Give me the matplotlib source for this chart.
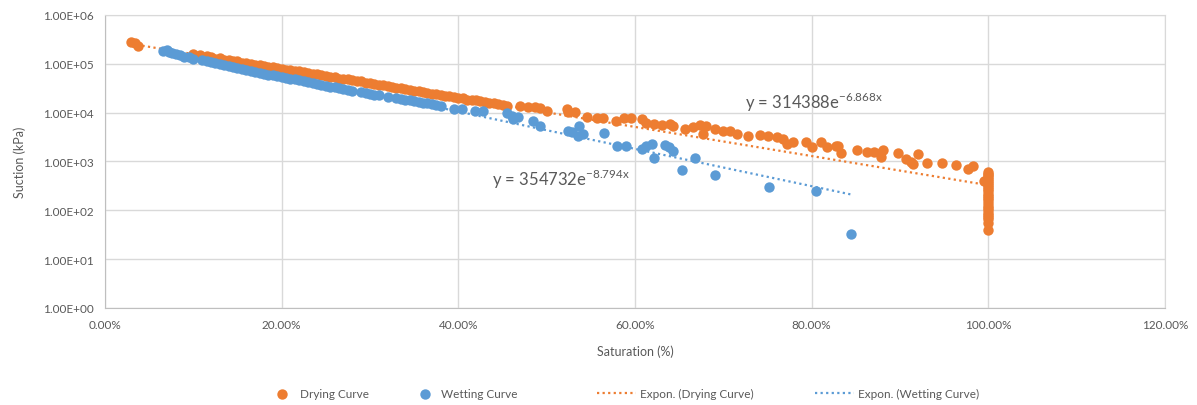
import numpy as np
import matplotlib.pyplot as plt
from matplotlib.ticker import FixedLocator, FuncFormatter, NullLocator

plt.rcParams['font.family'] = ['Lato', 'DejaVu Sans']

# Drying curve (saturation as fraction, suction in kPa)
dry_sat = [0.030, 0.034, 0.037,
           0.100, 0.108, 0.115, 0.120, 0.125, 0.130, 0.135, 0.140, 0.145, 0.150,
           0.155, 0.160, 0.165, 0.170, 0.175, 0.180, 0.185, 0.190, 0.195, 0.200,
           0.205, 0.210, 0.215, 0.220, 0.225, 0.230, 0.235, 0.240, 0.245, 0.250,
           0.255, 0.260, 0.265, 0.270, 0.275, 0.280, 0.285, 0.290, 0.295, 0.300,
           0.305, 0.310, 0.315, 0.320, 0.325, 0.330, 0.335, 0.340, 0.345, 0.350,
           0.355, 0.360, 0.365, 0.370, 0.375, 0.380, 0.385, 0.390, 0.395, 0.400,
           0.405, 0.410, 0.415, 0.420, 0.425, 0.430, 0.435, 0.440, 0.445, 0.450,
           0.455, 0.470, 0.479, 0.487, 0.493, 0.500, 0.523, 0.524, 0.532, 0.546,
           0.557, 0.564, 0.579, 0.587, 0.596, 0.608, 0.613, 0.621, 0.630, 0.640,
           0.643, 0.657, 0.666, 0.674, 0.680, 0.677, 0.691, 0.700, 0.708, 0.715,
           0.728, 0.742, 0.751, 0.761, 0.768, 0.772, 0.779, 0.793, 0.800, 0.810,
           0.817, 0.827, 0.830, 0.833, 0.851, 0.863, 0.870, 0.877, 0.878, 0.881,
           0.898, 0.907, 0.912, 0.915, 0.920, 0.930, 0.948, 0.963, 0.977, 0.983,
           0.995, 1.0, 1.0, 1.0, 1.0, 1.0, 1.0, 1.0, 1.0, 1.0, 1.0, 1.0, 1.0, 1.0,
           1.0, 1.0, 1.0, 1.0, 1.0, 1.0, 1.0, 1.0, 1.0, 1.0, 1.0, 1.0]
dry_suction = [284000, 262000, 235000,
               160000, 150000, 142000, 140000, 128000, 130000, 120000, 118000, 115000, 112000,
               102000, 105000, 98000, 96000, 93000, 92000, 86000, 85000, 84000, 80000,
               76000, 75000, 72000, 70000, 67000, 66000, 63000, 61000, 60000, 56000,
               54000, 55000, 50000, 49000, 48000, 46000, 45000, 44000, 41000, 40000,
               38000, 37000, 36000, 35500, 33000, 32000, 31500, 30500, 29000, 28000,
               27500, 26500, 25000, 24500, 24000, 23000, 22000, 21500, 20500, 20000,
               19500, 18500, 18000, 17800, 17000, 16500, 16000, 15500, 15000, 14500,
               13900, 13900, 12890, 12890, 12300, 10990, 11890, 10180, 10180, 8040,
               7670, 7670, 6850, 7670, 7670, 7430, 6150, 5870, 5600, 5870,
               5410, 4630, 5020, 5600, 5410, 3660, 4630, 4280, 4280, 3660,
               3380, 3490, 3280, 3130, 2890, 2280, 2550, 2550, 1955, 2470,
               1955, 2110, 2110, 1470, 1720, 1545, 1590, 1470, 1220, 1745,
               1470, 1125, 963, 889, 1430, 919, 919, 860, 703, 820,
               390, 610, 560, 520, 480, 440, 400, 360, 330, 300, 270, 245, 220, 200,
               180, 160, 140, 125, 110, 100, 90, 80, 72, 65, 56, 40]

# Wetting curve
wet_sat = [0.066, 0.070, 0.073, 0.076, 0.080, 0.085, 0.090, 0.095, 0.100,
           0.110, 0.115, 0.120, 0.125, 0.130, 0.135, 0.140, 0.145, 0.150, 0.155,
           0.160, 0.165, 0.170, 0.175, 0.180, 0.185, 0.190, 0.195, 0.200, 0.205,
           0.210, 0.215, 0.220, 0.225, 0.230, 0.235, 0.240, 0.245, 0.250, 0.255,
           0.260, 0.265, 0.270, 0.275, 0.280, 0.290, 0.295, 0.300, 0.305, 0.310,
           0.320, 0.330, 0.335, 0.340, 0.345, 0.350, 0.355, 0.360, 0.365, 0.370,
           0.375, 0.380, 0.395, 0.404, 0.419, 0.428, 0.455, 0.461, 0.462, 0.467,
           0.484, 0.493, 0.524, 0.529, 0.535, 0.537, 0.541, 0.565, 0.580, 0.590,
           0.608, 0.612, 0.619, 0.622, 0.634, 0.638, 0.643, 0.653, 0.668, 0.691,
           0.752, 0.805, 0.845]
wet_suction = [180000, 190000, 175000, 165000, 160000, 150000, 140000, 135000, 128000,
               120000, 115000, 110000, 105000, 100000, 96000, 90000, 86000, 82000, 78000,
               74000, 70000, 68000, 64000, 62000, 60000, 58000, 56000, 54000, 52000,
               50000, 48000, 46000, 44000, 42000, 40000, 38500, 37000, 35000, 34000,
               33000, 31500, 30000, 29000, 28000, 26000, 25000, 24000, 23000, 22500,
               21000, 19500, 19000, 18500, 18000, 17000, 16500, 16000, 15500, 15000,
               14500, 14000, 12000, 11900, 10990, 10820, 9850, 8670, 7430, 8160,
               6850, 5410, 4280, 4020, 3380, 5410, 3660, 3840, 2110, 2110,
               1800, 2080, 2280, 1180, 2180, 1980, 1665, 680, 1180, 529,
               300, 249, 33]

# exponential trendline coefficients (as shown on the chart)
dry_a, dry_b = 314388, -6.868
wet_a, wet_b = 354732, -8.794

orange = '#ED7D31'
blue = '#5B9BD5'
text_col = '#595959'
grid_col = '#D9D9D9'

fig = plt.figure(figsize=(11.97, 4.06), dpi=100)
ax = fig.add_axes([0.0877, 0.239, 0.8856, 0.7216])

h1 = ax.scatter(dry_sat, dry_suction, s=56, color=orange, label='Drying Curve', zorder=3, linewidths=0)
h2 = ax.scatter(wet_sat, wet_suction, s=56, color=blue, label='Wetting Curve', zorder=4, linewidths=0)

xd = np.linspace(min(dry_sat), max(dry_sat), 200)
xw = np.linspace(min(wet_sat), max(wet_sat), 200)
h3, = ax.plot(xd, dry_a * np.exp(dry_b * xd), linestyle=(0, (1, 1.5)), color=orange, lw=1.6,
              label='Expon. (Drying Curve)', zorder=2)
h4, = ax.plot(xw, wet_a * np.exp(wet_b * xw), linestyle=(0, (1, 1.5)), color=blue, lw=1.6,
              label='Expon. (Wetting Curve)', zorder=2)

ax.set_yscale('log')
ax.set_xlim(0, 1.2)
ax.set_ylim(1, 1e6)
ax.xaxis.set_major_locator(FixedLocator([0, 0.2, 0.4, 0.6, 0.8, 1.0, 1.2]))
ax.yaxis.set_major_locator(FixedLocator([1e0, 1e1, 1e2, 1e3, 1e4, 1e5, 1e6]))
ax.yaxis.set_minor_locator(NullLocator())
ax.xaxis.set_major_formatter(FuncFormatter(lambda v, p: '{:.2f}%'.format(v * 100)))
ax.yaxis.set_major_formatter(FuncFormatter(lambda v, p: '{:.2E}'.format(v)))
ax.tick_params(length=0, labelsize=8.5, colors=text_col, pad=8)
ax.grid(True, color=grid_col, lw=1)
ax.set_axisbelow(True)
for side in ['top', 'right']:
    ax.spines[side].set_color(grid_col)
for side in ['left', 'bottom']:
    ax.spines[side].set_color('#BFBFBF')

ax.set_xlabel('Saturation (%)', fontsize=9, color=text_col, labelpad=10)
ax.set_ylabel('Suction (kPa)', fontsize=9, color=text_col, labelpad=12)

ax.text(0.725, 17300, r'y = 314388e$^{\mathregular{-6.868x}}$', fontsize=12, color=text_col, va='center')
ax.text(0.438, 440, r'y = 354732e$^{\mathregular{-8.794x}}$', fontsize=12, color=text_col, va='center')

# legend entries placed one by one, like the Excel legend row
entries = [(h1, 'Drying Curve', 276, 1.0, 1.0),
           (h2, 'Wetting Curve', 419, 1.0, 0.85),
           (h3, 'Expon. (Drying Curve)', 597, 3.3, 0.35),
           (h4, 'Expon. (Wetting Curve)', 815, 3.3, 0.35)]
for h, lab, px, hl, pad in entries:
    leg = fig.legend([h], [lab], loc='center left', bbox_to_anchor=(px / 1197, 0.028),
                     frameon=False, fontsize=8.5, handlelength=hl, handletextpad=pad,
                     borderpad=0, borderaxespad=0, scatterpoints=1)
    for t in leg.get_texts():
        t.set_color(text_col)

fig.savefig('out.png', dpi=100)
